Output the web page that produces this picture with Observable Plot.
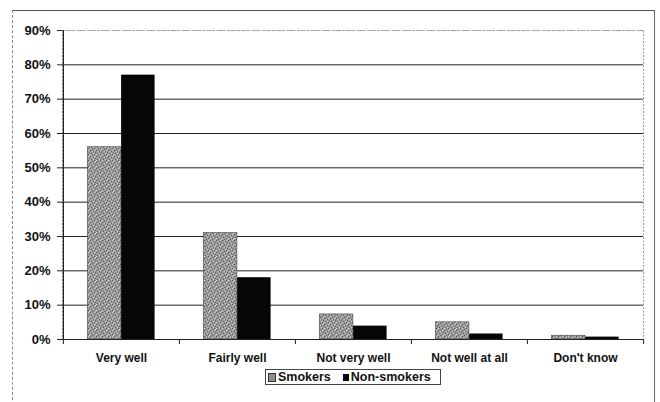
<!DOCTYPE html>
<html>
<head>
<meta charset="utf-8">
<script src="https://cdn.jsdelivr.net/npm/d3@7"></script>
<script src="https://cdn.jsdelivr.net/npm/@observablehq/plot@0.6"></script>
<style>
  html, body { margin: 0; padding: 0; background: #fff; }
  body { width: 660px; height: 402px; position: relative; overflow: hidden; font-family: "Liberation Sans", Arial, sans-serif; }
  #frame { position: absolute; left: 12px; top: 10px; width: 643px; height: 420px;
           border-top: 1.5px solid #555; border-left: 1px dashed #888; border-right: 1.5px solid #666; box-sizing: border-box; }
  #chart { position: absolute; left: 0; top: 0; }
  #legend { position: absolute; left: 265px; top: 369px; width: 176px; height: 16px; box-sizing: border-box;
            border: 1px solid #444; display: flex; align-items: center; font-size: 12.5px; font-weight: bold; color: #111; white-space: nowrap; }
  .sw { display: inline-block; width: 6px; height: 7px; margin: 0 2px 0 2px; }
</style>
</head>
<body>
<div id="frame"></div>
<div id="chart"></div>
<div id="legend"></div>
<script>
// Data
const categories = ["Very well", "Fairly well", "Not very well", "Not well at all", "Don't know"];
const series = ["Smokers", "Non-smokers"];
const smokers = [0.56, 0.31, 0.073, 0.05, 0.011];
const nonSmokers = [0.77, 0.18, 0.039, 0.016, 0.007];
const yTicks = [0, 0.1, 0.2, 0.3, 0.4, 0.5, 0.6, 0.7, 0.8, 0.9];

const rows = categories.flatMap((c, i) => [
  {category: c, series: "Smokers", value: smokers[i]},
  {category: c, series: "Non-smokers", value: nonSmokers[i]}
]);

// Layout
const W = 660, H = 366, ML = 62, MR = 17, MT = 30, MB = 27;
const bw = (W - ML - MR) / categories.length;
const groupFrac = 0.58;
const outer = bw * (1 - groupFrac) / 2;
const barW = bw * groupFrac / 2;
const innerH = H - MT - MB;

const plot = Plot.plot({
  width: W, height: H,
  marginLeft: ML, marginRight: MR, marginTop: MT, marginBottom: MB,
  style: {fontFamily: "'Liberation Sans', Arial, sans-serif", color: "#111", background: "transparent"},
  x: {type: "band", domain: categories, padding: 0, label: null},
  y: {domain: [0, 0.9], label: null},
  marks: [
    Plot.frame({stroke: "#999", strokeDasharray: "2,1.5"}),
    Plot.ruleY(yTicks.filter(d => d > 0 && d < 0.9), {stroke: "#222", strokeWidth: 1}),
    Plot.ruleY([0.9], {stroke: "#aaa", strokeDasharray: "3,2"}),
    Plot.barY(rows.filter(d => d.series === "Smokers"), {
      x: "category", y: "value", fill: "url(#smkPattern)", stroke: "#444", strokeWidth: 0.6,
      insetLeft: outer, insetRight: outer + barW
    }),
    Plot.barY(rows.filter(d => d.series === "Non-smokers"), {
      x: "category", y: "value", fill: "#060606",
      insetLeft: outer + barW, insetRight: outer
    }),
    Plot.ruleY([0], {stroke: "#222", strokeWidth: 1.2}),
    // y axis line
    Plot.ruleX([categories[0]], {x: d => d, dx: -bw / 2, stroke: "#222", strokeWidth: 1.2}),
    // category boundary ticks
    Plot.ruleX(categories, {x: d => d, dx: -bw / 2, insetTop: innerH, insetBottom: -5, stroke: "#222"}),
    Plot.ruleX([categories[categories.length - 1]], {x: d => d, dx: bw / 2, insetTop: innerH, insetBottom: -5, stroke: "#222"}),
    Plot.axisY({ticks: yTicks, tickFormat: d3.format(".0%"), tickSize: 5, tickPadding: 7,
      fontSize: 13, fontWeight: "bold", stroke: "#222", label: null}),
    Plot.axisX({tickSize: 0, tickPadding: 14, fontSize: 12, fontWeight: "bold", label: null})
  ]
});

// pattern for the stippled smokers fill
const ns = "http://www.w3.org/2000/svg";
const defs = document.createElementNS(ns, "defs");
defs.innerHTML = `
  <pattern id="smkPattern" width="6" height="6" patternUnits="userSpaceOnUse">
    <rect width="6" height="6" fill="#9c9c9c"/>
    <rect x="0" y="0" width="1" height="1" fill="#505050"/>
    <rect x="3" y="1" width="1" height="1" fill="#5a5a5a"/>
    <rect x="1" y="3" width="1" height="1" fill="#606060"/>
    <rect x="4" y="4" width="1" height="1" fill="#555"/>
    <rect x="5" y="2" width="1" height="1" fill="#666"/>
    <rect x="2" y="5" width="1" height="1" fill="#5c5c5c"/>
    <rect x="2" y="1" width="1" height="1" fill="#cfcfcf"/>
    <rect x="4" y="0" width="1" height="1" fill="#c8c8c8"/>
    <rect x="0" y="4" width="1" height="1" fill="#d0d0d0"/>
    <rect x="3" y="3" width="1" height="1" fill="#c4c4c4"/>
    <rect x="5" y="5" width="1" height="1" fill="#cacaca"/>
  </pattern>`;
plot.insertBefore(defs, plot.firstChild);
document.getElementById("chart").appendChild(plot);

// Legend
const lg = document.getElementById("legend");
series.forEach((s, i) => {
  const sw = document.createElement("span");
  sw.className = "sw";
  if (i === 0) { sw.style.background = "#8f8f8f"; sw.style.border = "0.5px solid #333"; sw.style.marginLeft = "2px"; }
  else { sw.style.background = "#060606"; sw.style.marginLeft = "12px"; }
  lg.appendChild(sw);
  const t = document.createElement("span");
  t.textContent = s;
  lg.appendChild(t);
});
</script>
</body>
</html>
